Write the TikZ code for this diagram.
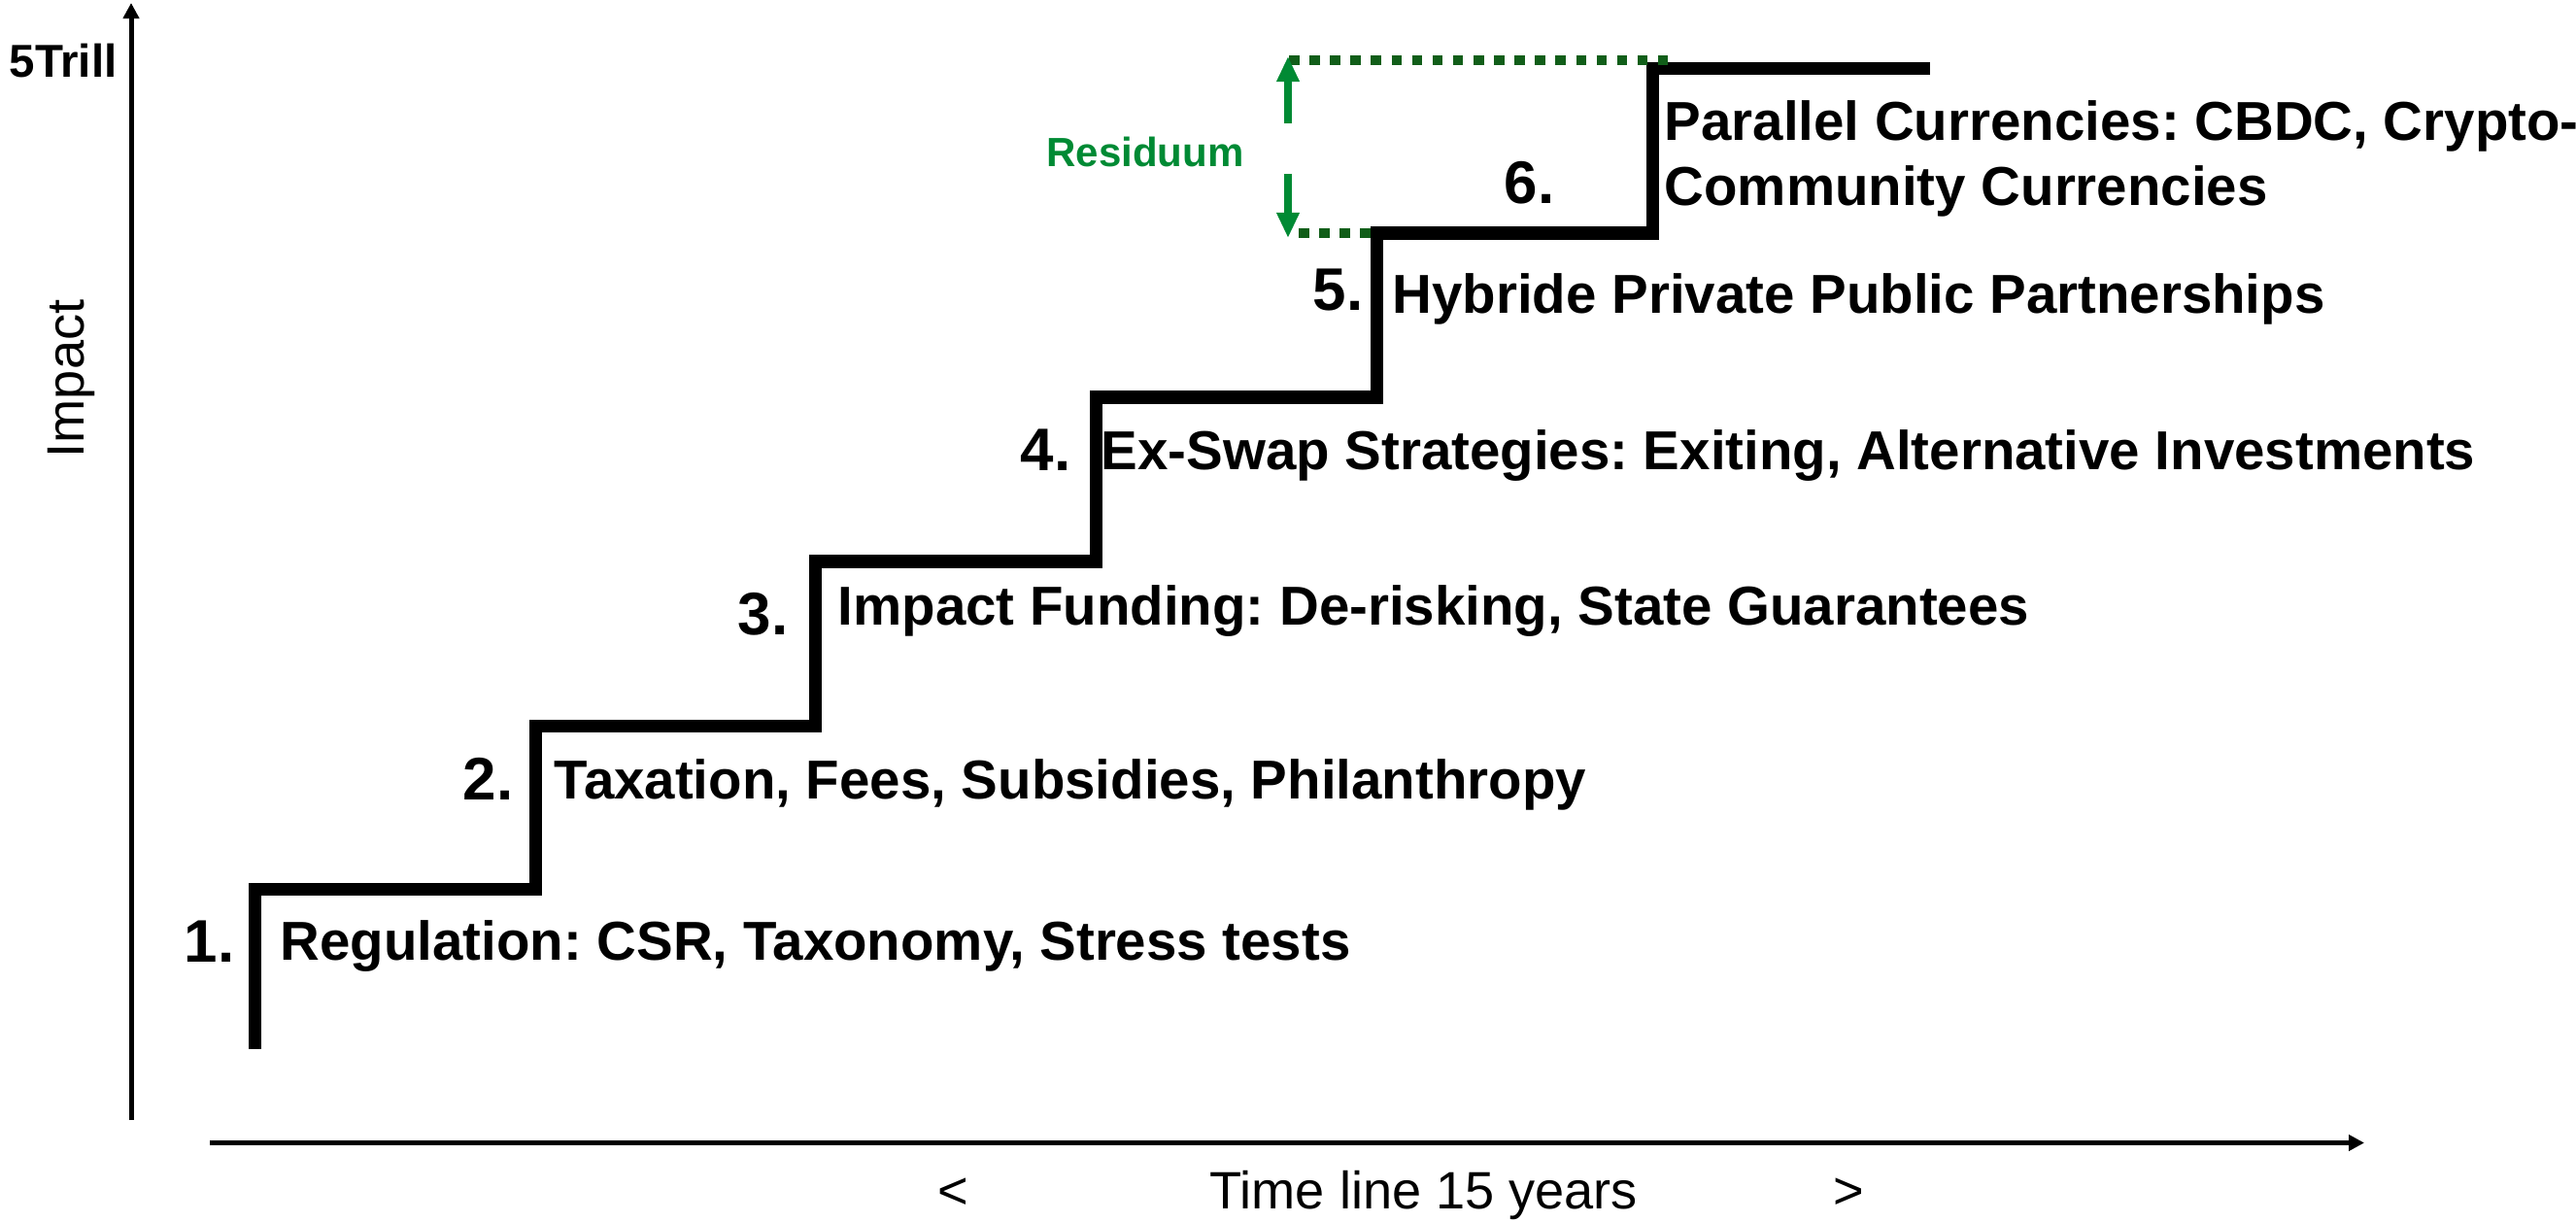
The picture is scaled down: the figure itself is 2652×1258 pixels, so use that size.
\documentclass[tikz,border=0pt]{standalone}
\usepackage{fontspec}
\setmainfont{Liberation Sans}
\usetikzlibrary{arrows.meta}
\definecolor{resgreen}{RGB}{0,138,52}
\definecolor{dotgreen}{RGB}{17,94,25}
\frenchspacing
\begin{document}
\begin{tikzpicture}[x=0.01cm,y=-0.01cm,
  axis/.style={line width=0.05cm,-{Triangle[length=0.16cm,width=0.16cm]}},
  stair/.style={line width=0.13cm},
  steplabel/.style={anchor=base west,inner sep=0pt,font=\fontsize{16.05}{19}\selectfont\bfseries},
  stepnum/.style={anchor=base east,inner sep=0pt,font=\fontsize{17.6}{21}\selectfont\bfseries},
  plaintext/.style={inner sep=0pt,font=\fontsize{15.4}{18}\selectfont},
  resarrow/.style={resgreen,line width=0.08cm,-{Triangle[length=0.26cm,width=0.22cm]}},
  resdots/.style={dotgreen,line width=0.1cm,dash pattern=on 0.105cm off 0.106cm}]
\useasboundingbox (0,0) rectangle (2652,1258);

% axes
\coordinate (yb) at (135,1153);
\coordinate (yt) at (135,3);
\coordinate (xl) at (216,1176.5);
\coordinate (xr) at (2434,1176.5);
\draw[axis] (yb) -- (yt);
\draw[axis] (xl) -- (xr);

% axis labels
\node[inner sep=0pt,anchor=base west,font=\fontsize{13.5}{16}\selectfont\bfseries] (trill) at (9,80) {5Trill};
\node[plaintext,rotate=90,anchor=base] (impact) at (86,390) {Impact};
\node[plaintext,anchor=base] (lt) at (981,1244) {<};
\node[plaintext,anchor=base west] (timeline) at (1245,1244) {Time line 15 years};
\node[plaintext,anchor=base] (gt) at (1903,1244) {>};

% staircase
\coordinate (s0) at (262,1080);
\coordinate (s1) at (262,915);
\coordinate (s2) at (551,915);
\coordinate (s3) at (551,747);
\coordinate (s4) at (839,747);
\coordinate (s5) at (839,578);
\coordinate (s6) at (1128,578);
\coordinate (s7) at (1128,409);
\coordinate (s8) at (1417,409);
\coordinate (s9) at (1417,240);
\coordinate (s10) at (1701,240);
\coordinate (s11) at (1701,71);
\coordinate (s12) at (1987,71);
\draw[stair] (s0) -- (s1) -- (s2) -- (s3) -- (s4) -- (s5) -- (s6) -- (s7) -- (s8) -- (s9) -- (s10) -- (s11) -- (s12);

% step numbers
\node[stepnum] (n1) at (242,990) {1.};
\node[stepnum] (n2) at (529,823) {2.};
\node[stepnum] (n3) at (812,653) {3.};
\node[stepnum] (n4) at (1103,485) {4.};
\node[stepnum] (n5) at (1404,320) {5.};
\node[stepnum] (n6) at (1601,210) {6.};

% step labels
\node[steplabel] (l1) at (288,988) {Regulation: CSR, Taxonomy, Stress tests};
\node[steplabel] (l2) at (570,822) {Taxation, Fees, Subsidies, Philanthropy};
\node[steplabel] (l3) at (862,643) {Impact Funding: De-risking, State Guarantees};
\node[steplabel] (l4) at (1133,483) {Ex-Swap Strategies: Exiting, Alternative Investments};
\node[steplabel] (l5) at (1433,323) {Hybride Private Public Partnerships};
\node[steplabel] (l6a) at (1713,145) {Parallel Currencies: CBDC, Crypto-};
\node[steplabel] (l6b) at (1713,212) {Community Currencies};

% residuum
\coordinate (dt0) at (1327,62);
\coordinate (dt1) at (1717,62);
\coordinate (db0) at (1337,240);
\coordinate (db1) at (1417,240);
\draw[resdots] (dt0) -- (dt1);
\draw[resdots] (db0) -- (db1);
\coordinate (ua0) at (1326,127);
\coordinate (ua1) at (1326,58);
\coordinate (da0) at (1326,179);
\coordinate (da1) at (1326,245);
\draw[resarrow] (ua0) -- (ua1);
\draw[resarrow] (da0) -- (da1);
\node[inner sep=0pt,anchor=base,text=resgreen,font=\fontsize{11.95}{14}\selectfont\bfseries] (res) at (1179,172) {Residuum};
\end{tikzpicture}
\end{document}
